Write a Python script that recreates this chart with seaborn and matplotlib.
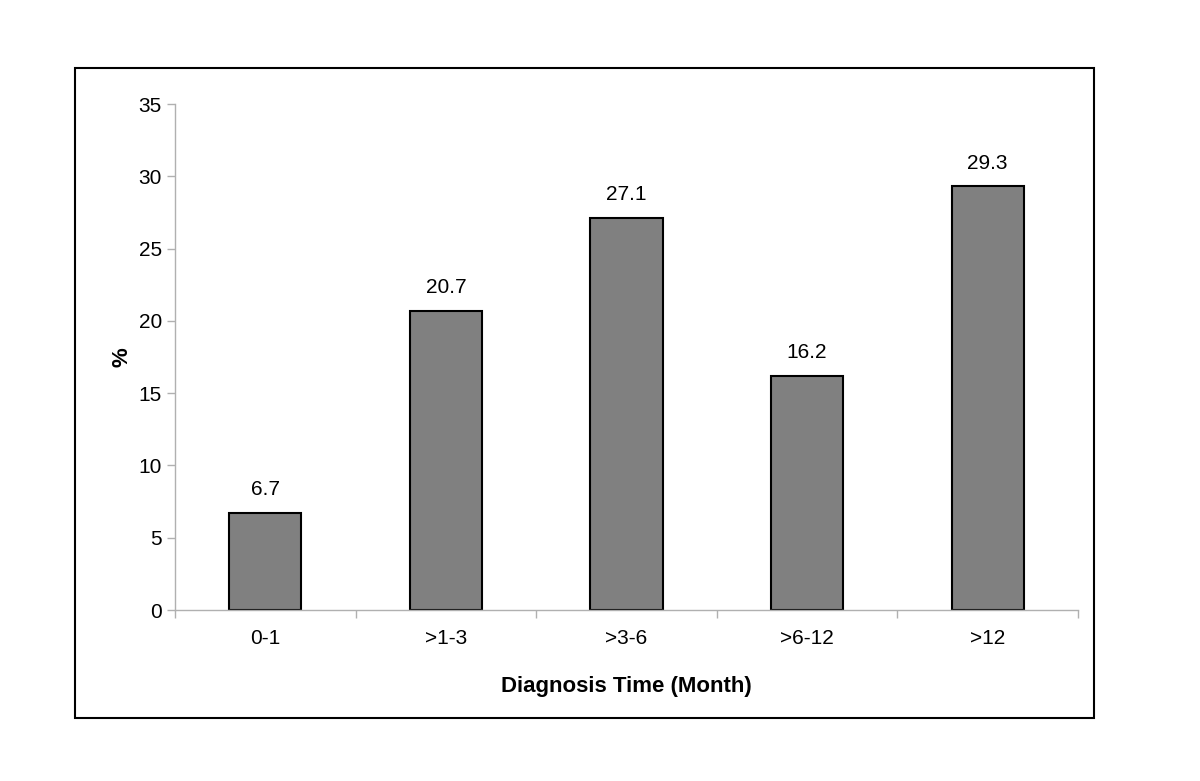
import matplotlib
matplotlib.use("Agg")
import matplotlib.pyplot as plt
import seaborn as sns
import pandas as pd
from matplotlib.patches import Rectangle

categories = ["0-1", ">1-3", ">3-6", ">6-12", ">12"]
values = [6.7, 20.7, 27.1, 16.2, 29.3]
yticks = [0, 5, 10, 15, 20, 25, 30, 35]

sns.set_style("white")
plt.rcParams['font.family'] = ['Liberation Sans', 'DejaVu Sans']
plt.rcParams['text.color'] = 'black'
plt.rcParams['axes.labelcolor'] = 'black'
plt.rcParams['xtick.labelcolor'] = 'black'
plt.rcParams['ytick.labelcolor'] = 'black'

fig = plt.figure(figsize=(12, 7.81), dpi=100)
ax = fig.add_axes([175/1200, 1-610/781, (1078-175)/1200, (610-104)/781])

df = pd.DataFrame({"cat": categories, "val": values})
sns.barplot(data=df, x="cat", y="val", color="#808080", edgecolor="black",
            linewidth=1.5, width=0.4, saturation=1, ax=ax)

for i, v in enumerate(values):
    ax.annotate(f"{v}", (i, v), xytext=(0, 10), textcoords="offset points",
                ha="center", va="bottom", fontsize=15, color="black")

ax.set_ylim(0, 35)
ax.set_xlim(-0.5, len(categories) - 0.5)
ax.set_yticks(yticks)
ax.tick_params(axis='y', labelsize=15, length=6, color="#b0b0b0", left=True, width=1)
ax.set_xticks(range(len(categories)))
ax.set_xticklabels(categories)
ax.tick_params(axis='x', which='major', labelsize=15, length=0, pad=14)
ax.set_xticks([i - 0.5 for i in range(len(categories) + 1)], minor=True)
ax.tick_params(axis='x', which='minor', length=6, color="#b0b0b0", bottom=True, width=1)

for s in ["top", "right"]:
    ax.spines[s].set_visible(False)
for s in ["left", "bottom"]:
    ax.spines[s].set_color("#b0b0b0")
    ax.spines[s].set_linewidth(1)

ax.set_xlabel("Diagnosis Time (Month)", fontsize=16, fontweight="bold", labelpad=20, color="black")
ax.set_ylabel("%", fontsize=16, fontweight="bold", labelpad=4, color="black")

fig.patches.append(Rectangle((75/1200, 1-718/781), (1094-75)/1200, 650/781,
                             transform=fig.transFigure, fill=False,
                             edgecolor="black", linewidth=1.5))

fig.savefig("out.png", dpi=100)
